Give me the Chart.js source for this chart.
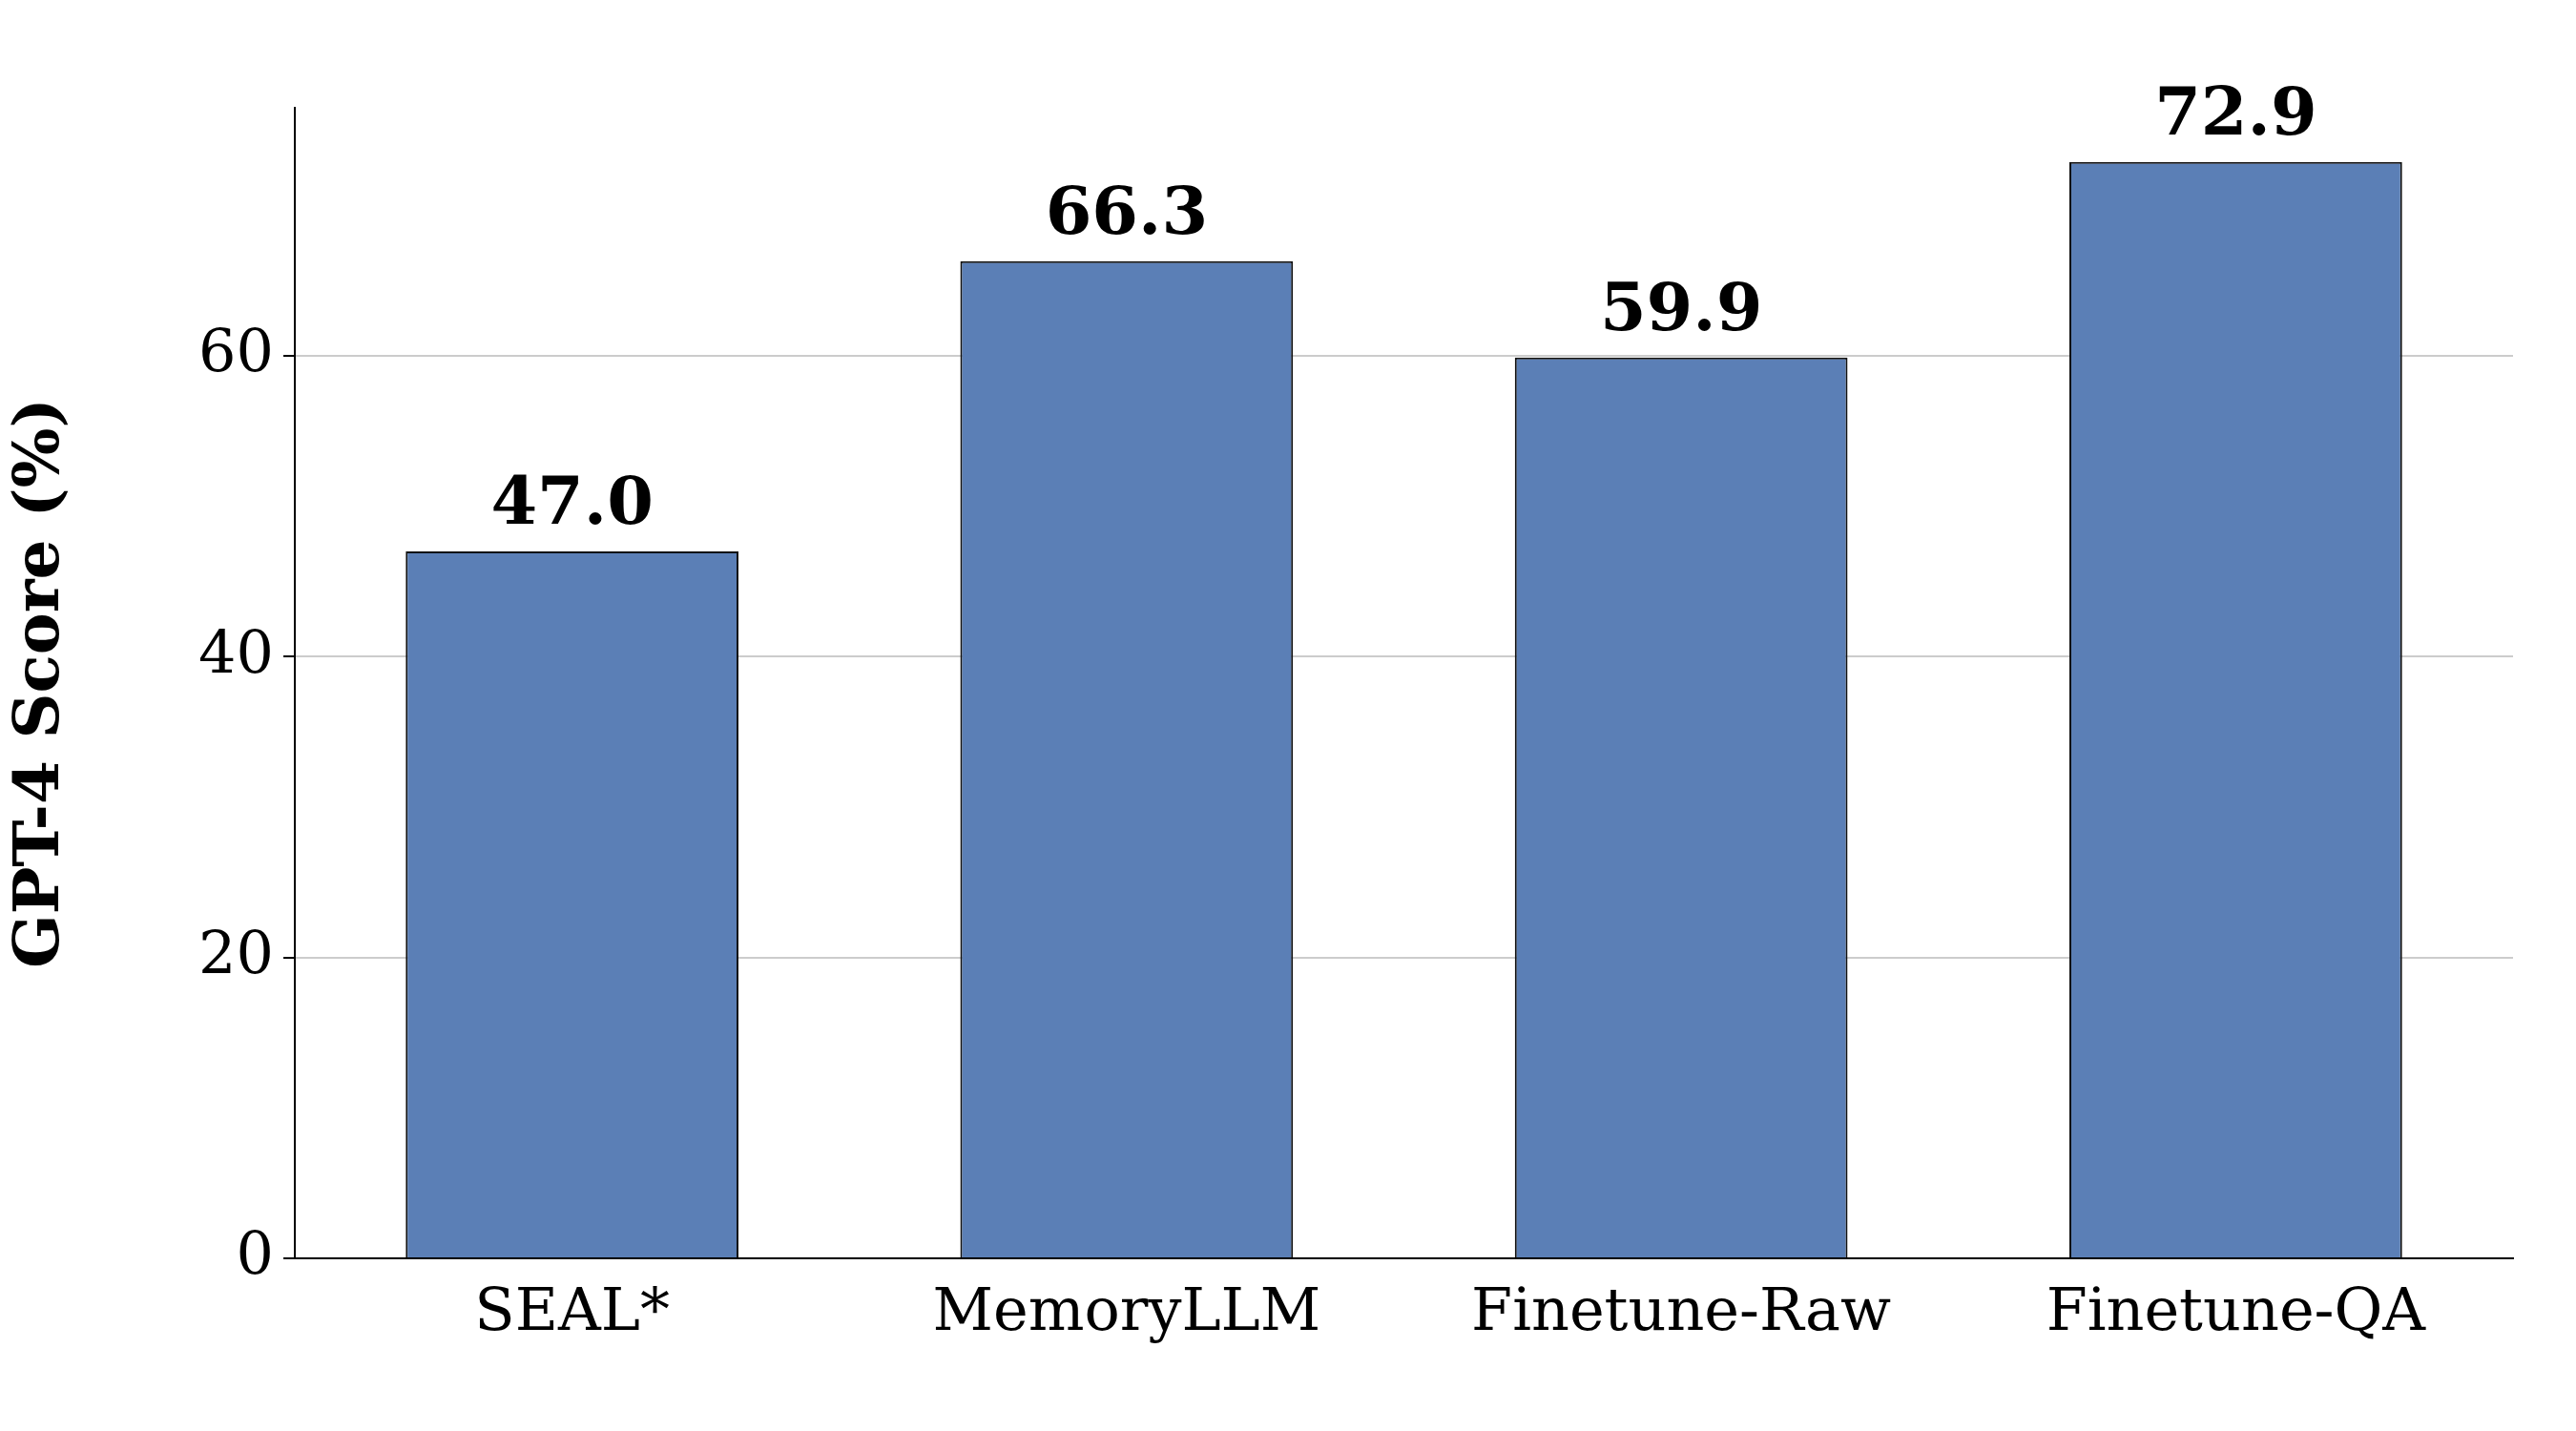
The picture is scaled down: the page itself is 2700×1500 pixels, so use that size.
<!DOCTYPE html>
<html>
<head>
<meta charset="utf-8">
<script src="https://cdn.jsdelivr.net/npm/chart.js@4"></script>
<style>
  html, body { margin: 0; padding: 0; background: #fff; }
  #wrap { width: 2700px; height: 1500px; }
</style>
</head>
<body>
<div id="wrap"><canvas id="chart" width="2700" height="1500"></canvas></div>
<script>
var methods = ['SEAL*', 'MemoryLLM', 'Finetune-Raw', 'Finetune-QA'];
var scores = [47.0, 66.3, 59.9, 72.9];
var yTicks = [0, 20, 40, 60];

var serif = "'DejaVu Serif', serif";

// value labels above bars
var valueLabels = {
    id: 'valueLabels',
    afterDatasetsDraw: function (chart) {
        var ctx = chart.ctx;
        var meta = chart.getDatasetMeta(0);
        ctx.save();
        ctx.font = 'bold 70px ' + serif;
        ctx.fillStyle = '#000';
        ctx.textAlign = 'center';
        ctx.textBaseline = 'bottom';
        meta.data.forEach(function (bar, i) {
            ctx.fillText(scores[i].toFixed(1), bar.x, bar.y - 12);
        });
        ctx.restore();
    }
};

new Chart(document.getElementById('chart'), {
    type: 'bar',
    data: {
        labels: methods,
        datasets: [{
            data: scores,
            backgroundColor: '#5b7fb6',
            borderColor: '#111',
            borderWidth: 2,
            barPercentage: 0.6,
            categoryPercentage: 1.0
        }]
    },
    options: {
        responsive: false,
        animation: false,
        layout: { padding: { top: 113, right: 66, left: 0, bottom: 0 } },
        plugins: { legend: { display: false }, tooltip: { enabled: false } },
        scales: {
            x: {
                offset: true,
                grid: { display: false, drawTicks: true },
                border: { color: '#000', width: 2 },
                ticks: { color: '#000', font: { family: serif, size: 62 }, padding: 14 },
                afterFit: function (s) { s.height = 181; }
            },
            y: {
                min: 0,
                max: 76.5,
                afterBuildTicks: function (s) { s.ticks = yTicks.map(function (v) { return { value: v }; }); },
                grid: {
                    color: function (c) { return c.tick.value === 0 ? 'rgba(0,0,0,0)' : '#cccccc'; },
                    lineWidth: 2,
                    tickColor: '#000',
                    tickLength: 12,
                    tickBorderDash: [],
                    borderDash: [8, 6]
                },
                border: { color: '#000', width: 2, dash: [] },
                ticks: { color: '#000', font: { family: serif, size: 62 }, padding: 10 },
                title: {
                    display: true,
                    text: 'GPT-4 Score (%)',
                    color: '#000',
                    font: { family: serif, size: 66, weight: 'bold' },
                    padding: { bottom: 20 }
                },
                afterFit: function (s) { s.width = 309; }
            }
        }
    },
    plugins: [valueLabels]
});
</script>
</body>
</html>
